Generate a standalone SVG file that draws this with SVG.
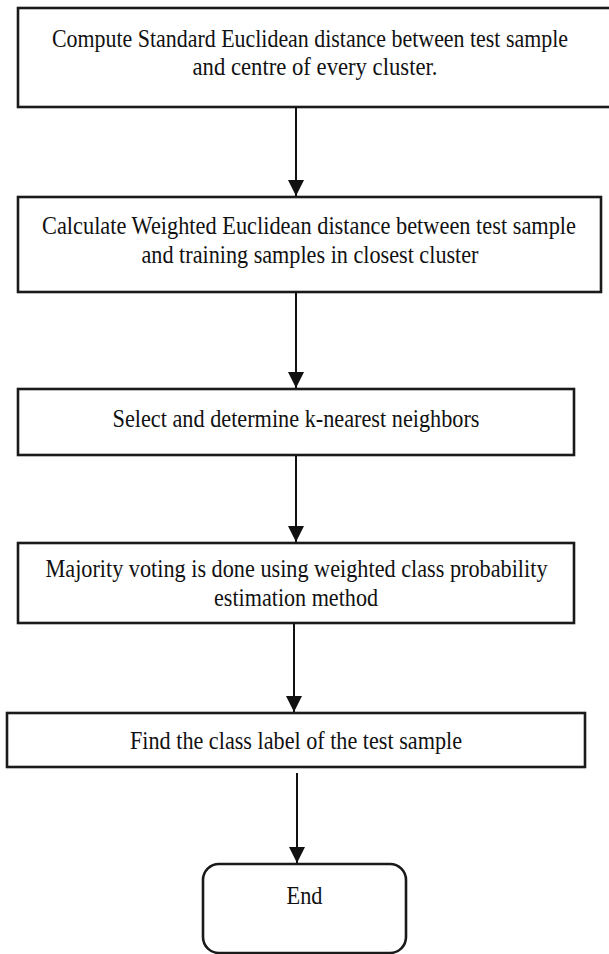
<svg xmlns="http://www.w3.org/2000/svg" width="609" height="954" viewBox="0 0 609 954">
<style>
.box{fill:#ffffff;stroke:#1a1a1a;stroke-width:2.6}
.t{font-family:"Liberation Serif","Times New Roman",serif;font-size:22px;fill:#111111;text-anchor:middle}
.c{stroke:#111111;stroke-width:2;fill:none}
</style>
<defs>
<marker id="ah" markerUnits="userSpaceOnUse" markerWidth="16" markerHeight="20" refX="16" refY="8" orient="auto">
<path d="M0,0 L16,8 L0,16 Z" fill="#111111"/>
</marker>
</defs>
<rect width="609" height="954" fill="#ffffff"/>
<g id="n1">
<rect class="box" x="18" y="8" width="600" height="99"/>
<text class="t" transform="translate(310,47) scale(1,1.18)" textLength="516" lengthAdjust="spacingAndGlyphs">Compute Standard Euclidean distance between test sample</text>
<text class="t" transform="translate(315,75) scale(1,1.18)" textLength="245" lengthAdjust="spacingAndGlyphs">and centre of every cluster.</text>
</g>
<g id="n2">
<rect class="box" x="18" y="197" width="583" height="95"/>
<text class="t" transform="translate(309,234) scale(1,1.18)" textLength="534" lengthAdjust="spacingAndGlyphs">Calculate Weighted Euclidean distance between test sample</text>
<text class="t" transform="translate(310,263) scale(1,1.18)" textLength="337" lengthAdjust="spacingAndGlyphs">and training samples in closest cluster</text>
</g>
<g id="n3">
<rect class="box" x="18" y="389" width="556" height="66"/>
<text class="t" transform="translate(296,427) scale(1,1.18)" textLength="367" lengthAdjust="spacingAndGlyphs">Select and determine k-nearest neighbors</text>
</g>
<g id="n4">
<rect class="box" x="18" y="543" width="556" height="80"/>
<text class="t" transform="translate(296.5,577) scale(1,1.18)" textLength="502" lengthAdjust="spacingAndGlyphs">Majority voting is done using weighted class probability</text>
<text class="t" transform="translate(296,606) scale(1,1.18)" textLength="164" lengthAdjust="spacingAndGlyphs">estimation method</text>
</g>
<g id="n5">
<rect class="box" x="7" y="713" width="578" height="54"/>
<text class="t" transform="translate(296,749) scale(1,1.18)" textLength="332" lengthAdjust="spacingAndGlyphs">Find the class label of the test sample</text>
</g>
<g id="n6">
<rect class="box" x="203" y="864" width="203" height="89" rx="16" ry="16"/>
<text class="t" transform="translate(304.5,904) scale(1,1.18)" textLength="36" lengthAdjust="spacingAndGlyphs">End</text>
</g>
<g id="connectors">
<line class="c" x1="296" y1="107" x2="296" y2="196" marker-end="url(#ah)"/>
<line class="c" x1="296" y1="292" x2="296" y2="388" marker-end="url(#ah)"/>
<line class="c" x1="296" y1="455" x2="296" y2="542" marker-end="url(#ah)"/>
<line class="c" x1="294" y1="623" x2="294" y2="712" marker-end="url(#ah)"/>
<line class="c" x1="297" y1="773" x2="297" y2="863" marker-end="url(#ah)"/>
</g>
</svg>
